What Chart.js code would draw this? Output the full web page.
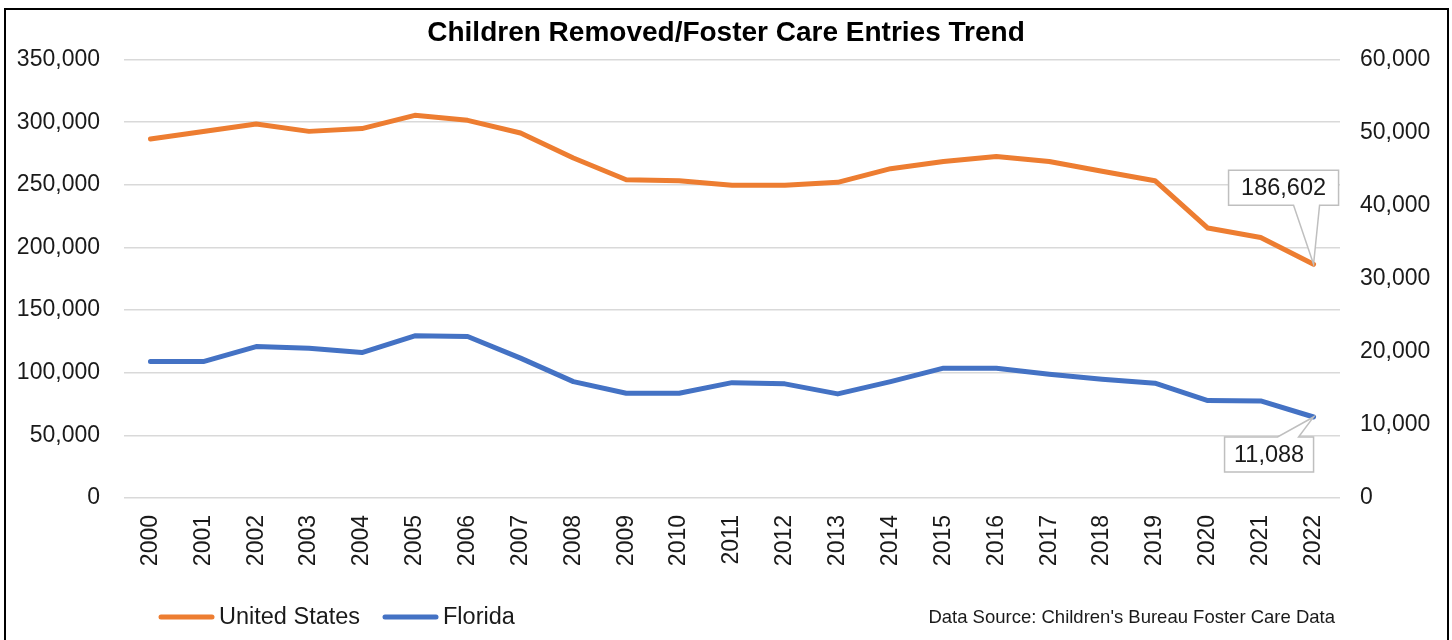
<!DOCTYPE html>
<html>
<head>
<meta charset="utf-8">
<script src="https://cdn.jsdelivr.net/npm/chart.js@4"></script>
<style>
  body { margin: 0; background: #fff; }
  #wrap { position: relative; width: 1452px; height: 640px; overflow: hidden; }
  #frame { position: absolute; left: 4px; top: 8px; width: 1441px; height: 700px; border: 2px solid #000; pointer-events: none; }
</style>
</head>
<body>
<div id="wrap">
  <canvas id="myChart" width="1452" height="640"></canvas>
  <div id="frame"></div>
</div>
<script>
// chart data
var years = ['2000', '2001', '2002', '2003', '2004', '2005', '2006', '2007', '2008', '2009', '2010', '2011',
  '2012', '2013', '2014', '2015', '2016', '2017', '2018', '2019', '2020', '2021', '2022'];
var unitedStates = [286600, 292600, 298600, 292700, 294900, 305500, 301500, 291400, 271400, 254100, 253300, 249600,
  249600, 252000, 262900, 268700, 272700, 268700, 260800, 253300, 215500, 208000, 186602];
var florida = [18670, 18670, 20730, 20500, 19900, 22190, 22100, 19140, 15930, 14340, 14340, 15790,
  15620, 14250, 15930, 17770, 17770, 16940, 16260, 15710, 13330, 13290, 11088];
var leftTicks = [0, 50000, 100000, 150000, 200000, 250000, 300000, 350000];
var rightTicks = [0, 10000, 20000, 30000, 40000, 50000, 60000];
var sourceNote = "Data Source: Children's Bureau Foster Care Data";

const ORANGE = '#ED7D31';
const BLUE = '#4472C4';
const FONT = 'Arial, "Liberation Sans", sans-serif';

function fmt(v) {
    return v.toLocaleString('en-US');
}

// callout boxes for the last point of each line
const calloutPlugin = {
    id: 'callouts',
    afterDatasetsDraw(chart) {
        const c = chart.ctx;
        const boxes = [
            { ds: 0, dx: -85, dy: -94, w: 110, h: 35, b1: -20, b2: 6, below: false },
            { ds: 1, dx: -89, dy: 20, w: 89, h: 35, b1: -36, b2: -15, below: true }
        ];
        boxes.forEach(function (b) {
            const meta = chart.getDatasetMeta(b.ds);
            const i = meta.data.length - 1;
            const pt = meta.data[i];
            const px = pt.x, py = pt.y;
            const L = px + b.dx, T = py + b.dy, R = L + b.w, B = T + b.h;
            c.save();
            c.beginPath();
            if (!b.below) {
                c.moveTo(L, T); c.lineTo(R, T); c.lineTo(R, B);
                c.lineTo(px + b.b2, B); c.lineTo(px, py); c.lineTo(px + b.b1, B);
                c.lineTo(L, B); c.closePath();
            } else {
                c.moveTo(L, T); c.lineTo(px + b.b1, T); c.lineTo(px, py); c.lineTo(px + b.b2, T);
                c.lineTo(R, T); c.lineTo(R, B); c.lineTo(L, B); c.closePath();
            }
            c.fillStyle = '#fff';
            c.fill();
            c.strokeStyle = '#bfbfbf';
            c.lineWidth = 1.5;
            c.stroke();
            c.fillStyle = '#1a1a1a';
            c.font = '23.5px ' + FONT;
            c.textAlign = 'center';
            c.textBaseline = 'middle';
            c.fillText(fmt(chart.data.datasets[b.ds].data[i]), (L + R) / 2, (T + B) / 2 + 1);
            c.restore();
        });
    }
};

// legend + source line at the bottom
const footerPlugin = {
    id: 'footer',
    afterDraw(chart) {
        const c = chart.ctx;
        const y = 617;
        const starts = [159, 383];
        c.save();
        c.font = '23.5px ' + FONT;
        c.textBaseline = 'middle';
        chart.data.datasets.forEach(function (ds, k) {
            const x = starts[k];
            c.beginPath();
            c.moveTo(x + 2, y);
            c.lineTo(x + 53, y);
            c.strokeStyle = ds.borderColor;
            c.lineWidth = 5;
            c.lineCap = 'round';
            c.stroke();
            c.fillStyle = '#1a1a1a';
            c.textAlign = 'left';
            c.fillText(ds.label, x + 60, y + 1);
        });
        c.font = '18.5px ' + FONT;
        c.textAlign = 'right';
        c.fillText(sourceNote, 1335, y + 1);
        c.restore();
    }
};

const ctx = document.getElementById('myChart');

var chart = new Chart(ctx, {
    type: 'line',
    data: {
        labels: years,
        datasets: [{
            label: 'United States',
            data: unitedStates,
            borderColor: ORANGE,
            backgroundColor: ORANGE,
            yAxisID: 'y'
        }, {
            label: 'Florida',
            data: florida,
            borderColor: BLUE,
            backgroundColor: BLUE,
            yAxisID: 'y1'
        }]
    },
    options: {
        responsive: false,
        animation: false,
        layout: { padding: 0 },
        elements: {
            line: { borderWidth: 5, tension: 0, borderCapStyle: 'round', borderJoinStyle: 'round' },
            point: { radius: 0, hoverRadius: 0 }
        },
        plugins: {
            legend: { display: false },
            tooltip: { enabled: false },
            title: {
                display: true,
                text: 'Children Removed/Foster Care Entries Trend',
                color: '#000',
                font: { family: FONT, size: 28, weight: 'bold', lineHeight: 1.2 },
                padding: { top: 16, bottom: 10 }
            }
        },
        scales: {
            x: {
                offset: true,
                grid: { display: false, drawTicks: false },
                border: { display: false },
                ticks: {
                    color: '#1a1a1a',
                    font: { family: FONT, size: 23 },
                    maxRotation: 90,
                    minRotation: 90,
                    padding: 17,
                    autoSkip: false
                },
                afterFit(scale) { scale.height = 142; }
            },
            y: {
                position: 'left',
                min: 0,
                max: 350000,
                afterBuildTicks(scale) { scale.ticks = leftTicks.map(v => ({ value: v })); },
                grid: { color: '#d9d9d9', lineWidth: 1.5, drawTicks: false },
                border: { display: false },
                ticks: {
                    color: '#1a1a1a',
                    font: { family: FONT, size: 23 },
                    padding: 24,
                    callback: v => fmt(v)
                },
                afterFit(scale) { scale.width = 124; }
            },
            y1: {
                position: 'right',
                min: 0,
                max: 60000,
                afterBuildTicks(scale) { scale.ticks = rightTicks.map(v => ({ value: v })); },
                grid: { display: false, drawTicks: false },
                border: { display: false },
                ticks: {
                    color: '#1a1a1a',
                    font: { family: FONT, size: 23 },
                    padding: 20,
                    callback: v => fmt(v)
                },
                afterFit(scale) { scale.width = 112; }
            }
        }
    },
    plugins: [calloutPlugin, footerPlugin]
});
</script>
</body>
</html>
